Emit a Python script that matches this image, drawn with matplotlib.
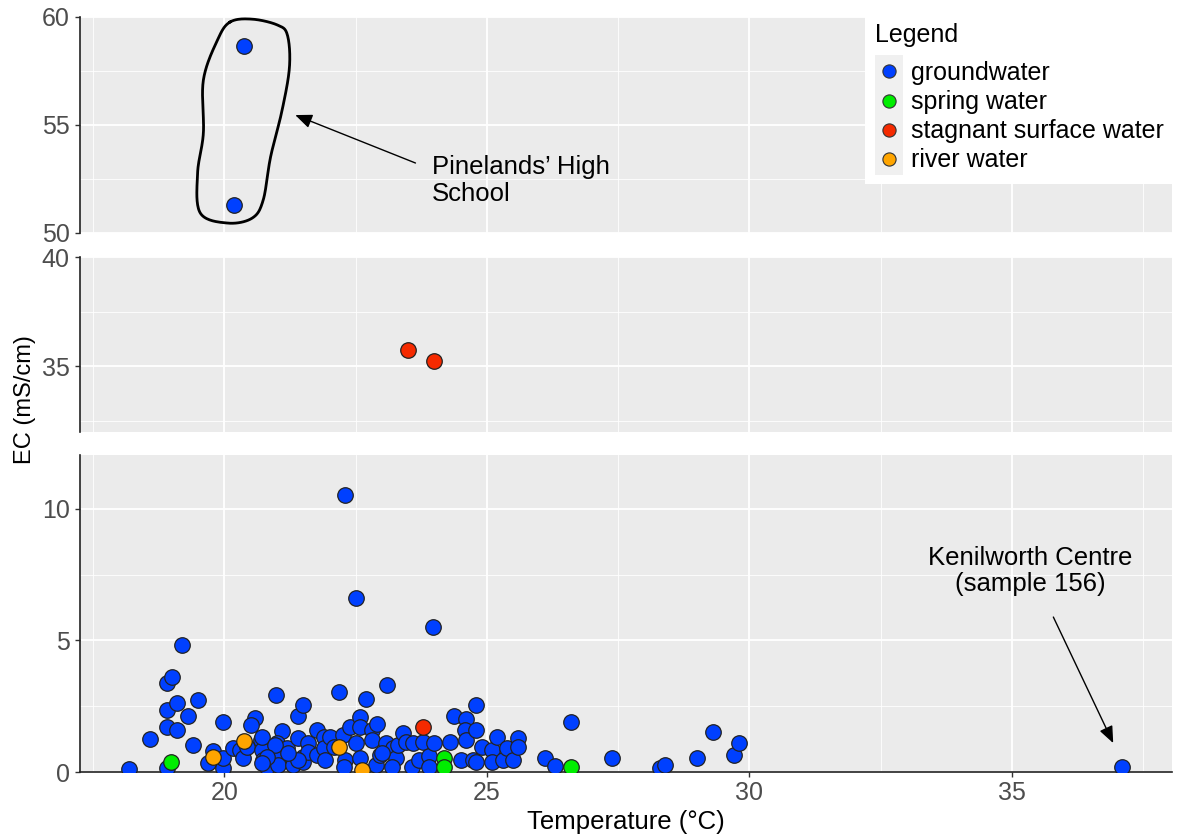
import numpy as np
import matplotlib.pyplot as plt
from matplotlib.ticker import MultipleLocator
from matplotlib.legend_handler import HandlerBase
from matplotlib.patches import Rectangle
from matplotlib.lines import Line2D

plt.rcParams['font.family'] = ['Liberation Sans', 'DejaVu Sans']

# --- data: temperature (°C) and EC (mS/cm) per water type ---
gw_temp = [18.19, 18.59, 18.90, 19.01, 19.20, 18.90, 19.10, 18.90, 19.10, 19.30,
           19.49, 19.41, 18.90, 19.98, 19.79, 19.68, 19.98, 19.98, 20.17, 20.30,
           20.36, 20.44, 20.59, 20.50, 20.70, 20.72, 20.74, 20.82, 20.99, 21.10,
           21.01, 21.20, 21.01, 21.03, 21.30, 21.31, 21.41, 21.41, 21.49, 21.50,
           21.49, 21.60, 21.60, 21.77, 21.77, 21.89, 21.89, 21.92, 22.02, 22.08,
           22.19, 22.30, 22.25, 22.30, 22.27, 22.40, 22.50, 22.50, 22.59, 22.59,
           22.59, 22.70, 22.82, 22.91, 22.82, 22.88, 22.97, 23.09, 23.07, 23.22,
           23.26, 23.20, 23.30, 23.41, 23.45, 23.60, 23.58, 23.70, 23.79, 23.89,
           23.89, 23.98, 24.00, 24.29, 24.38, 24.50, 24.61, 24.59, 24.61, 24.80,
           24.80, 24.74, 24.80, 24.91, 25.10, 25.10, 25.20, 25.31, 25.39, 25.50,
           25.60, 25.60, 26.11, 26.30, 26.61, 27.39, 28.29, 28.40, 29.01, 29.30,
           29.70, 29.81, 37.10, 20.72, 20.97, 23.00, 21.41, 20.82, 21.22, 20.72,
           20.38, 20.19]
gw_ec = [0.11, 1.25, 3.38, 3.61, 4.83, 2.36, 2.62, 1.71, 1.60, 2.13,
         2.74, 1.03, 0.15, 1.90, 0.80, 0.34, 0.15, 0.53, 0.91, 0.84,
         0.53, 0.95, 2.05, 1.79, 1.22, 0.84, 0.46, 0.19, 2.93, 1.56,
         1.10, 0.91, 0.57, 0.27, 0.46, 0.27, 1.29, 2.13, 2.55, 0.57,
         0.38, 1.10, 0.76, 1.60, 0.65, 1.33, 0.91, 0.46, 1.33, 0.95,
         3.04, 10.53, 1.41, 0.46, 0.19, 1.71, 6.62, 1.10, 2.09, 1.71,
         0.53, 2.78, 1.60, 1.83, 1.22, 0.27, 0.65, 3.31, 1.10, 0.91,
         0.53, 0.19, 1.03, 1.48, 1.14, 1.10, 0.19, 0.46, 1.14, 0.61,
         0.19, 5.51, 1.10, 1.14, 2.13, 0.46, 2.02, 1.60, 1.22, 2.55,
         1.60, 0.46, 0.38, 0.95, 0.84, 0.38, 1.33, 0.46, 0.91, 0.46,
         1.29, 0.95, 0.53, 0.23, 1.90, 0.53, 0.15, 0.27, 0.53, 1.52,
         0.65, 1.10, 0.19, 1.33, 1.03, 0.72, 0.46, 0.57, 0.72, 0.34,
         58.66, 51.30]

spring_temp = [18.99, 24.19, 24.19, 26.61]
spring_ec = [0.38, 0.53, 0.19, 0.19]

stagnant_temp = [23.79, 23.49, 24.00]
stagnant_ec = [1.71, 35.73, 35.23]

river_temp = [19.79, 20.38, 22.19, 22.63]
river_ec = [0.57, 1.18, 0.95, 0.08]

labels = ['groundwater', 'spring water', 'stagnant surface water', 'river water']
colors = ['#0040FF', '#00EE00', '#F52A00', '#FFA500']
groups = [(gw_temp, gw_ec), (spring_temp, spring_ec),
          (stagnant_temp, stagnant_ec), (river_temp, river_ec)]

# hand-drawn loop around the Pinelands points (data coords of top panel)
loop_t = [20.11, 20.53, 21.01, 21.20, 21.24, 21.10, 20.88, 20.74, 20.53,
          20.06, 19.54, 19.49, 19.60, 19.60, 19.87]
loop_ec = [59.77, 59.90, 59.63, 59.17, 57.69, 55.69, 53.52, 51.53, 50.69,
           50.46, 50.93, 52.78, 54.63, 57.08, 58.94]


def closed_curve(xs, ys, n=20):
    pts = np.column_stack([xs, ys])
    m = len(pts)
    t = np.linspace(0, 1, n, endpoint=False)[:, None]
    out = []
    for i in range(m):
        p0, p1, p2, p3 = pts[i - 1], pts[i], pts[(i + 1) % m], pts[(i + 2) % m]
        seg = 0.5 * (2 * p1 + (-p0 + p2) * t + (2 * p0 - 5 * p1 + 4 * p2 - p3) * t ** 2
                     + (-p0 + 3 * p1 - 3 * p2 + p3) * t ** 3)
        out.append(seg)
    out.append(pts[:1])
    out = np.vstack(out)
    return out[:, 0], out[:, 1]


W, H = 1178, 836
fig = plt.figure(figsize=(W / 100, H / 100), dpi=100)

left, right = 80, 1172
panels = [  # (top px, bottom px, ylim, major, minor)
    (17, 233, (50, 60), 5, 2.5),
    (257, 432, (32.0, 40), 5, 2.5),
    (455, 772, (0, 12.05), 5, 2.5),
]

axes = []
for top, bot, ylim, major, minor in panels:
    ax = fig.add_axes([left / W, 1 - bot / H, (right - left) / W, (bot - top) / H])
    ax.set_facecolor('#EBEBEB')
    ax.set_xlim(17.25, 38.05)
    ax.set_ylim(*ylim)
    ax.xaxis.set_major_locator(MultipleLocator(5))
    ax.xaxis.set_minor_locator(MultipleLocator(2.5))
    ax.yaxis.set_major_locator(MultipleLocator(major))
    ax.yaxis.set_minor_locator(MultipleLocator(minor))
    ax.grid(which='major', color='white', lw=1.3)
    ax.grid(which='minor', color='white', lw=0.6)
    ax.set_axisbelow(True)
    for s in ['top', 'right', 'bottom']:
        ax.spines[s].set_visible(False)
    ax.spines['left'].set_color('#222222')
    ax.spines['left'].set_linewidth(1.2)
    ax.tick_params(which='minor', length=0)
    ax.tick_params(axis='y', which='major', length=3.5, width=1, color='#333333',
                   labelsize=18, labelcolor='#4D4D4D', pad=4)
    ax.tick_params(axis='x', which='major', length=0, labelbottom=False)
    for (tt, ee), c in zip(groups, colors):
        ax.scatter(tt, ee, s=125, c=c, edgecolors='#222222', linewidths=0.9, zorder=3)
    axes.append(ax)

ax_top, ax_mid, ax_bot = axes
ax_bot.spines['bottom'].set_visible(True)
ax_bot.spines['bottom'].set_color('#222222')
ax_bot.spines['bottom'].set_linewidth(1.2)
ax_bot.tick_params(axis='x', which='major', length=3.5, width=1, color='#333333',
                   labelbottom=True, labelsize=18, labelcolor='#4D4D4D', pad=3)

# annotations
lx, ly = closed_curve(loop_t, loop_ec)
ax_top.plot(lx, ly, color='black', lw=2, zorder=4, clip_on=False)
arrow = dict(arrowstyle='-|>,head_length=0.6,head_width=0.25', color='black',
             lw=1, mutation_scale=17, shrinkA=0, shrinkB=0)
ax_top.annotate('', xy=(21.35, 55.46), xytext=(23.64, 53.24), arrowprops=arrow)
ax_top.text(23.96, 52.45, 'Pinelands\u2019 High\nSchool', fontsize=18.5,
            ha='left', va='center', linespacing=1.15)

ax_bot.annotate('', xy=(36.93, 1.10), xytext=(35.79, 5.89), arrowprops=arrow)
ax_bot.text(35.35, 7.64, 'Kenilworth Centre\n(sample 156)', fontsize=18.5,
            ha='center', va='center', multialignment='center', linespacing=1.15)

fig.text(626 / W, 1 - 822 / H, 'Temperature (\u00b0C)', fontsize=18.5,
         ha='center', va='center')
fig.text(25 / W, 1 - 400 / H, 'EC (mS/cm)', fontsize=17, rotation=90,
         ha='center', va='center')


# legend with grey key background like ggplot
class KeyHandler(HandlerBase):
    def create_artists(self, legend, orig_handle, xdescent, ydescent, width, height,
                       fontsize, trans):
        bg = Rectangle((-xdescent, -ydescent - 1), width, height + 2,
                       facecolor='#F0F0F0', edgecolor='none', transform=trans)
        dot = Line2D([width / 2 - xdescent], [height / 2 - ydescent], ls='none',
                     marker='o', ms=9.5, mfc=orig_handle.get_markerfacecolor(),
                     mec='#333333', mew=0.8, transform=trans)
        return [bg, dot]


handles = [Line2D([], [], ls='none', marker='o', mfc=c) for c in colors]
leg = fig.legend(handles, labels, loc='upper left',
                 bbox_to_anchor=(865 / W, 1 - 13 / H), borderaxespad=0,
                 title='Legend', fontsize=18, title_fontsize=18, frameon=True,
                 fancybox=False, facecolor='white', edgecolor='none', framealpha=1,
                 borderpad=0.4, labelspacing=0, handlelength=1.1, handleheight=1.42,
                 handletextpad=0.35, alignment='left',
                 handler_map={Line2D: KeyHandler()})
leg._legend_box.sep = 7

fig.savefig('out.png', dpi=100)
